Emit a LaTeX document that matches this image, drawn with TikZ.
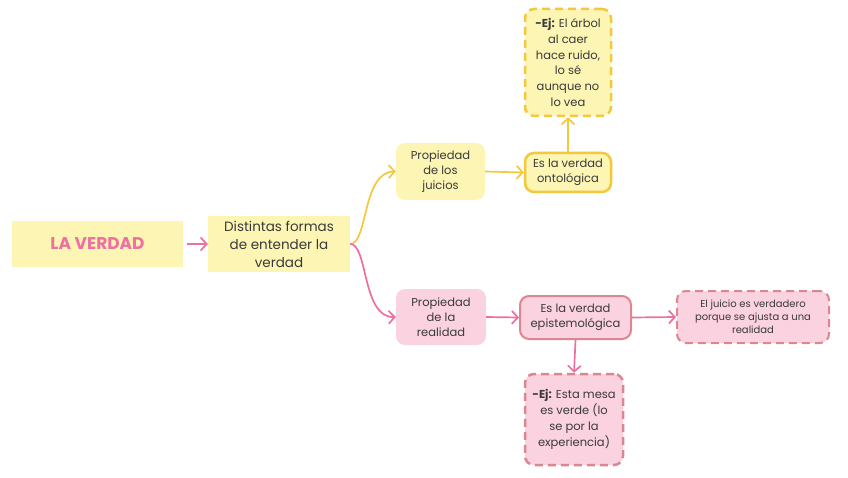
\documentclass[tikz,border=0pt]{standalone}
\usepackage{fontspec}
\setmainfont{Poppins}
\usetikzlibrary{arrows.meta}
\definecolor{yfill}{HTML}{FCF5B4}
\definecolor{pfill}{HTML}{FBD2E0}
\definecolor{parrow}{HTML}{F06FA2}
\definecolor{garrow}{HTML}{F4C83C}
\definecolor{rose}{HTML}{D98892}
\definecolor{txt}{HTML}{3A3A3A}
\begin{document}
\begin{tikzpicture}[x=1pt,y=-1pt,
  box/.style={inner sep=0pt, align=center, text=txt, font=\fontsize{11.5}{15}\selectfont},
  ybox/.style={box, fill=yfill},
  pbox/.style={box, fill=pfill},
  rbox/.style={rounded corners=9pt},
  parr/.style={draw=parrow, line width=1.7pt, -{Straight Barb[length=6pt,width=13pt]}},
  garr/.style={draw=garrow, line width=1.7pt, -{Straight Barb[length=6pt,width=13pt]}}
]
\useasboundingbox (0,0) rectangle (848,478);
\fill[white] (0,0) rectangle (848,478);

\node[ybox, minimum width=171pt, minimum height=46pt, text=parrow, font=\fontsize{17}{20}\bfseries] (lv) at (97.5,244) {LA VERDAD};
\node[ybox, minimum width=142pt, minimum height=56pt, font=\fontsize{13.5}{18}\selectfont] (dist) at (279,244) {Distintas formas\\de entender la\\verdad};

\node[ybox, rbox, minimum width=89pt, minimum height=57pt] (pj) at (440.5,171.5) {Propiedad\\de los\\juicios};
\node[ybox, rbox, draw=garrow, line width=2.5pt, minimum width=86pt, minimum height=39pt] (onto) at (568,172.5) {Es la verdad\\ontológica};
\node[ybox, rbox, draw=garrow, line width=2.5pt, dash pattern=on 8pt off 5pt, minimum width=86pt, minimum height=107pt, font=\fontsize{11.5}{15.8}\selectfont] (ej1) at (568,62.5) {\textbf{-Ej:} El árbol\\al caer\\hace ruido,\\lo sé\\aunque no\\lo vea};

\node[pbox, rbox, minimum width=90pt, minimum height=56pt] (pr) at (441,317) {Propiedad\\de la\\realidad};
\node[pbox, rbox, draw=rose, line width=2pt, minimum width=111pt, minimum height=43pt] (epi) at (575.5,317.5) {Es la verdad\\epistemológica};
\node[pbox, rbox, draw=rose, line width=2pt, dash pattern=on 8pt off 5pt, minimum width=152pt, minimum height=52pt, font=\fontsize{10}{13}\selectfont] (jui) at (753,317) {El juicio es verdadero\\porque se ajusta a una\\realidad};
\node[pbox, rbox, draw=rose, line width=2.5pt, dash pattern=on 8pt off 5pt, minimum width=98pt, minimum height=91pt, font=\fontsize{11.5}{16}\selectfont] (ej2) at (574,419.5) {\textbf{-Ej:} Esta mesa\\es verde (lo\\se por la\\experiencia)};

\draw[parr] (lv.east) ++(4,0) coordinate (a0) (a0) -- (dist.west);
\draw[garr] (dist.east) .. controls (368,244) and (362,172) .. (pj.west);
\draw[parr] (dist.east) .. controls (368,244) and (362,318) .. (pr.west);
\draw[garr] (pj.east) -- (onto.west);
\draw[garr] (onto.north) -- (ej1.south);
\draw[parr] (pr.east) -- (epi.west);
\draw[parr] (epi.east) -- (jui.west);
\draw[parr] (epi.south) -- (ej2.north);
\end{tikzpicture}
\end{document}
